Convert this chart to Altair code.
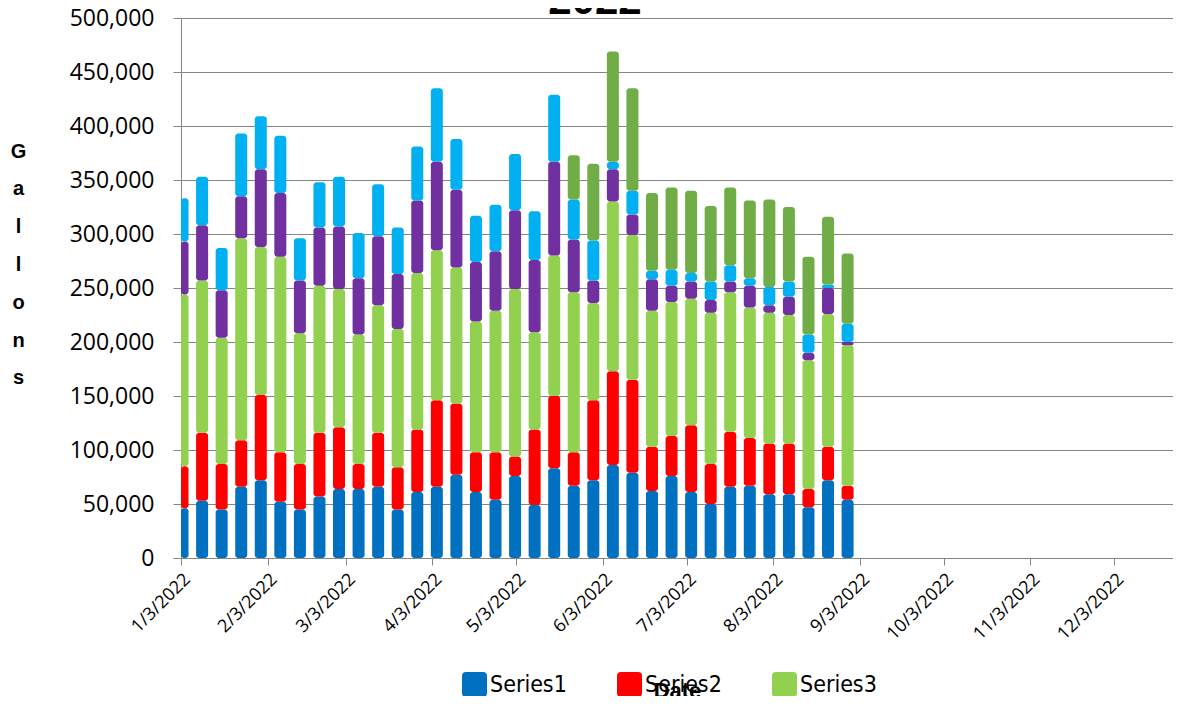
import altair as alt
import pandas as pd

# ---- data (values in thousands of gallons) ----
dates = [
    "2022-01-03", "2022-01-10", "2022-01-17", "2022-01-24", "2022-01-31",
    "2022-02-07", "2022-02-14", "2022-02-21", "2022-02-28", "2022-03-07",
    "2022-03-14", "2022-03-21", "2022-03-28", "2022-04-04", "2022-04-11",
    "2022-04-18", "2022-04-25", "2022-05-02", "2022-05-09", "2022-05-16",
    "2022-05-23", "2022-05-30", "2022-06-06", "2022-06-13", "2022-06-20",
    "2022-06-27", "2022-07-04", "2022-07-11", "2022-07-18", "2022-07-25",
    "2022-08-01", "2022-08-08", "2022-08-15", "2022-08-22", "2022-08-29",
]
series_names = ["Series1", "Series2", "Series3", "Series4", "Series5", "Series6"]
series_colors = ["#0070C0", "#FF0000", "#92D050", "#7030A0", "#00B0F0", "#70AD47"]

s1 = [46, 53, 45, 66, 72, 52, 45, 57, 64, 64, 66, 45, 61, 66, 77, 61, 54, 76, 49, 83,
      67, 72, 86, 79, 62, 76, 61, 50, 66, 67, 59, 59, 47, 72, 54]
s2 = [39, 63, 42, 43, 79, 46, 42, 59, 57, 23, 50, 39, 58, 80, 66, 37, 44, 18, 70, 67,
      31, 74, 87, 86, 41, 37, 62, 37, 51, 44, 47, 47, 17, 31, 13]
s3 = [159, 141, 117, 187, 137, 181, 121, 136, 128, 120, 118, 128, 145, 139, 126, 121, 131, 155, 90, 130,
      148, 90, 157, 134, 126, 124, 117, 140, 129, 121, 121, 119, 119, 123, 130]
s4 = [49, 51, 44, 39, 72, 59, 49, 54, 58, 52, 64, 51, 67, 82, 72, 55, 55, 73, 67, 87,
      49, 21, 30, 19, 29, 15, 16, 12, 10, 20, 7, 17, 7, 24, 3]
s5 = [40, 45, 39, 58, 49, 53, 39, 42, 46, 42, 48, 43, 50, 68, 47, 43, 43, 52, 45, 62,
      37, 37, 7, 22, 8, 15, 8, 17, 15, 7, 17, 14, 17, 3, 17]
s6 = [0, 0, 0, 0, 0, 0, 0, 0, 0, 0, 0, 0, 0, 0, 0, 0, 0, 0, 0, 0,
      41, 71, 102, 95, 72, 76, 76, 70, 72, 72, 81, 69, 72, 63, 65]

month_ticks = [(m, 3) for m in range(1, 13)]
y_ticks = [0, 50000, 100000, 150000, 200000, 250000, 300000, 350000, 400000, 450000, 500000]
legend_values = ["Series1", "Series2", "Series3"]

rows = []
all_series = [s1, s2, s3, s4, s5, s6]
for i, d in enumerate(dates):
    for k, name in enumerate(series_names):
        rows.append({"day": d, "series": name, "rank": k, "gallons": all_series[k][i] * 1000})
df = pd.DataFrame(rows)

GRAY = "#868686"
DAY_MS = 86400000
rounded_square = ("M-1,-0.68 Q-1,-1 -0.68,-1 L0.68,-1 Q1,-1 1,-0.68 L1,0.68 "
                  "Q1,1 0.68,1 L-0.68,1 Q-1,1 -1,0.68 Z")

x_axis = alt.Axis(
    values=[alt.DateTime(year=2022, month=m, date=d, utc=True) for m, d in month_ticks],
    labelExpr="utcFormat(datum.value, '%-m/%-d/%Y')",
    labelAngle=-45, labelAlign="right", labelBaseline="top",
    labelPadding=5, labelOffset=0, labelOverlap=False, labelFlush=False,
    labelFont="Open Sans", labelFontSize=18, labelColor="black",
    tickSize=7, tickColor=GRAY, domainColor=GRAY, grid=False,
    title="Date", titleFont="Liberation Sans", titleFontSize=22, titleFontWeight="bold",
    titleColor="black", titleX=496, titleY=139, titleAlign="center", titleBaseline="alphabetic",
)

y_axis = alt.Axis(
    values=y_ticks, format=",.0f",
    labelFont="Open Sans", labelFontSize=23, labelColor="black", labelPadding=19,
    tickSize=8, tickColor=GRAY, domainColor=GRAY, gridColor=GRAY, grid=True,
    title=["G", "a", "l", "l", "o", "n", "s"], titleAngle=0,
    titleX=-163, titleY=139, titleAlign="center", titleBaseline="alphabetic",
    titleFont="Liberation Sans", titleFontSize=20, titleFontWeight="bold",
    titleColor="black", titleLineHeight=37.8,
)

# bars sit ~0.55 day right of their date, 12 px wide; the first bar is cut at the
# start of the axis as in the reference (narrower, shifted right)
first = dates[0]
bars = alt.Chart(df).transform_calculate(
    xc=f"time(toDate(datum.day)) + (datum.day === '{first}' ? 1.35 : 0.55) * {DAY_MS}",
    w=f"datum.day === '{first}' ? 7.5 : 12",
).mark_bar(cornerRadius=3).encode(
    x=alt.X("xc:T",
            scale=alt.Scale(type="utc", nice=False, padding=0,
                            domain=[alt.DateTime(year=2022, month=1, date=3, utc=True),
                                    alt.DateTime(year=2022, month=12, date=24, utc=True)]),
            axis=x_axis),
    y=alt.Y("gallons:Q", stack="zero", scale=alt.Scale(domain=[0, 500000]), axis=y_axis),
    size=alt.Size("w:Q", scale=None, legend=None),
    color=alt.Color("series:N",
                    scale=alt.Scale(domain=series_names, range=series_colors),
                    legend=alt.Legend(values=legend_values, orient="none", legendX=281, legendY=654,
                                      direction="horizontal", title=None, padding=0,
                                      symbolType=rounded_square, symbolSize=625, symbolStrokeWidth=0,
                                      symbolOpacity=1,
                                      labelFont="DejaVu Sans Condensed", labelFontSize=23,
                                      labelColor="black", labelOffset=3, columnPadding=50)),
    order=alt.Order("rank:Q", sort="ascending"),
)

title_df = pd.DataFrame({"t": ["2022"]})
title = alt.Chart(title_df).mark_text(
    font="Liberation Sans", fontSize=42, fontWeight="bold", color="black",
    align="center", baseline="alphabetic"
).encode(text="t:N", x=alt.value(414), y=alt.value(-4))

chart = alt.layer(bars, title).properties(
    width=992, height=540,
    autosize=alt.AutoSizeParams(type="none"),
    padding={"left": 173, "top": 10, "right": 0, "bottom": 138},
).configure_view(stroke=None)

chart.save("out.html", embed_options={"renderer": "svg", "actions": False})
